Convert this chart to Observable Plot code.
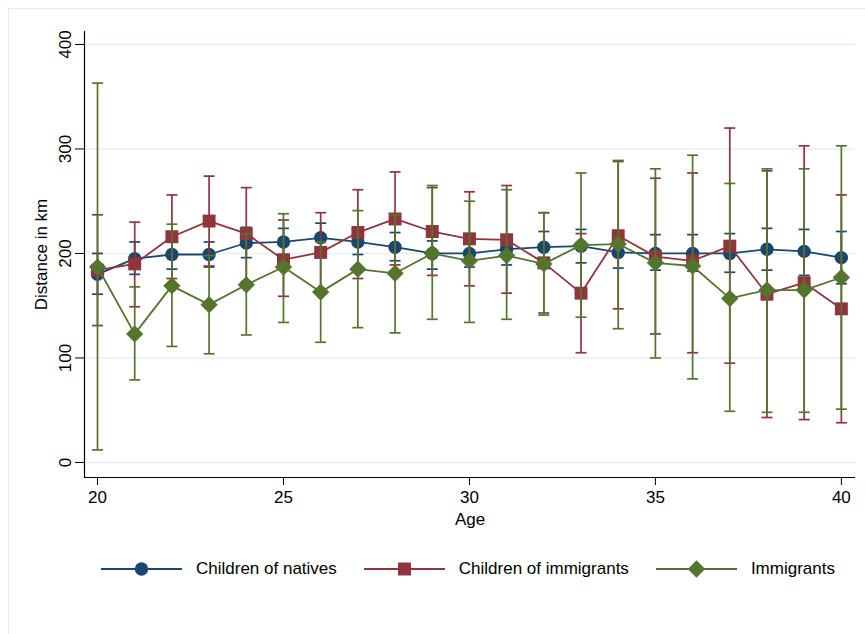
<!DOCTYPE html>
<html>
<head>
<meta charset="utf-8">
<script src="https://cdn.jsdelivr.net/npm/d3@7"></script>
<script src="https://cdn.jsdelivr.net/npm/@observablehq/plot@0.6"></script>
<style>
  html, body { margin: 0; padding: 0; background: #fff; }
  #wrap { position: relative; width: 865px; height: 634px; overflow: hidden; background: #fff;
          font-family: "Liberation Sans", Arial, Helvetica, sans-serif; }
  #border { position: absolute; left: 8px; top: 8px; width: 880px; height: 660px;
            border: 1.5px solid #e3ebf0; box-sizing: border-box; }
  #chart { position: absolute; left: 0; top: 0; }
  #legend { position: absolute; left: 101px; top: 559px; display: flex; align-items: center;
            font-size: 17px; color: #000; }
  .item { display: flex; align-items: center; margin-right: 27px; }
  .item svg { margin-right: 14px; display: block; }
</style>
</head>
<body>
<div id="wrap">
  <div id="border"></div>
  <div id="chart"></div>
  <div id="legend"></div>
</div>
<script>
// ---- data ----
const ages = [20,21,22,23,24,25,26,27,28,29,30,31,32,33,34,35,36,37,38,39,40];

const natives   = [180,195,199,199,210,211,215,211,206,200,200,204,206,207,201,200,200,200,204,202,196];
const nativesLo = [161,180,185,187,196,198,201,199,193,185,187,189,191,191,186,184,183,182,184,179,171];
const nativesHi = [200,211,213,211,225,224,229,225,220,212,212,218,221,223,216,218,218,219,224,223,221];

const childImm   = [184,190,216,231,219,194,201,220,233,221,214,213,191,162,217,197,193,207,161,172,147];
const childImmLo = [131,149,176,188,173,159,163,176,189,179,169,162,143,105,147,123,105,95,43,41,38];
const childImmHi = [237,230,256,274,263,232,239,261,278,263,259,265,239,219,288,272,277,320,279,303,256];

const immigrants   = [187,123,169,151,170,187,163,185,181,200,193,198,190,208,209,191,188,157,165,165,177];
const immigrantsLo = [12,79,111,104,122,134,115,129,124,137,134,137,141,139,128,100,80,49,48,48,51];
const immigrantsHi = [363,168,228,198,219,238,211,241,237,265,250,261,239,277,289,281,294,267,281,281,303];

const seriesNames = ["Children of natives", "Children of immigrants", "Immigrants"];
const seriesColors = ["#1a476f", "#90353b", "#55752f"];
const xTicks = [20, 25, 30, 35, 40];
const yTicks = [0, 100, 200, 300, 400];

// ---- build ----
const capSymbol = {
  draw(ctx, size) {
    const w = Math.sqrt(size / Math.PI);
    ctx.moveTo(-w, 0);
    ctx.lineTo(w, 0);
  }
};

const seriesDefs = [
  {name: seriesNames[0], color: seriesColors[0], v: natives, lo: nativesLo, hi: nativesHi, symbol: "circle", r: 6.7},
  {name: seriesNames[1], color: seriesColors[1], v: childImm, lo: childImmLo, hi: childImmHi, symbol: "square", r: 7.3},
  {name: seriesNames[2], color: seriesColors[2], v: immigrants, lo: immigrantsLo, hi: immigrantsHi, symbol: "diamond2", r: 7.8}
];

const xDomain = [19.65, 40.38];
const yDomain = [-14.4, 412.4];

const marks = [
  Plot.ruleY(yTicks, {stroke: "#e6eef2", strokeWidth: 1.6}),
];

for (const s of seriesDefs) {
  const rows = ages.map((a, i) => ({age: a, v: s.v[i], lo: s.lo[i], hi: s.hi[i]}));
  marks.push(
    Plot.ruleX(rows, {x: "age", y1: "lo", y2: "hi", stroke: s.color, strokeWidth: 1.7}),
    Plot.dot(rows, {x: "age", y: "lo", symbol: capSymbol, r: 5.5, fill: "none", stroke: s.color, strokeWidth: 1.7}),
    Plot.dot(rows, {x: "age", y: "hi", symbol: capSymbol, r: 5.5, fill: "none", stroke: s.color, strokeWidth: 1.7}),
    Plot.line(rows, {x: "age", y: "v", stroke: s.color, strokeWidth: 1.8}),
    Plot.dot(rows, {x: "age", y: "v", symbol: s.symbol, r: s.r, fill: s.color, stroke: "none"})
  );
}

marks.push(
  Plot.ruleY([yDomain[0]], {stroke: "#000", strokeWidth: 1.2}),
  Plot.ruleX([xDomain[0]], {stroke: "#000", strokeWidth: 1.2}),
  Plot.axisX({ticks: xTicks, tickSize: 8, tickPadding: 5, label: "Age", labelAnchor: "center", labelArrow: "none", labelOffset: 47, fontSize: 17}),
  Plot.axisY({ticks: yTicks, tickSize: 9, tickPadding: 5, tickRotate: -90, label: "Distance in km", labelAnchor: "center", labelArrow: "none", labelOffset: 50, fontSize: 17})
);

const chart = Plot.plot({
  width: 865,
  height: 545,
  marginLeft: 84,
  marginRight: 10,
  marginTop: 31,
  marginBottom: 68,
  x: {domain: xDomain},
  y: {domain: yDomain},
  style: {fontFamily: "Liberation Sans, Arial, sans-serif", fontSize: "17px", color: "#000", background: "transparent"},
  marks
});
document.getElementById("chart").appendChild(chart);

// ---- legend ----
const legend = d3.select("#legend");
for (const s of seriesDefs) {
  const item = legend.append("div").attr("class", "item");
  const svg = item.append("svg").attr("width", 81).attr("height", 20);
  svg.append("line").attr("x1", 0).attr("x2", 81).attr("y1", 10).attr("y2", 10)
     .attr("stroke", s.color).attr("stroke-width", 1.8);
  const symType = s.symbol === "circle" ? d3.symbolCircle : s.symbol === "square" ? d3.symbolSquare : d3.symbolDiamond2;
  svg.append("path").attr("transform", "translate(40.5,10)")
     .attr("d", d3.symbol(symType, Math.PI * s.r * s.r)())
     .attr("fill", s.color);
  item.append("span").text(s.name);
}
</script>
</body>
</html>
